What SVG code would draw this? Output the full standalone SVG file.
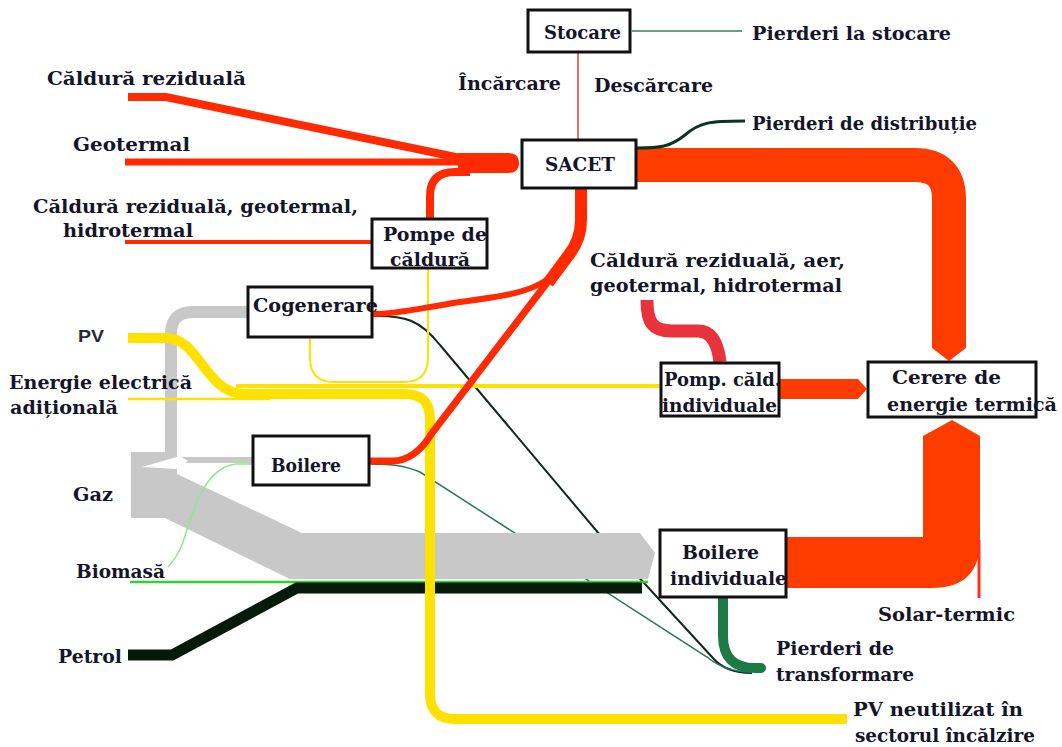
<svg xmlns="http://www.w3.org/2000/svg" width="1062" height="747" viewBox="0 0 1062 747">
<style>
.t{font-family:"DejaVu Serif","Liberation Serif",serif;font-weight:bold;font-size:19px;fill:#15152a}
.s{font-family:"Liberation Sans",Arial,sans-serif;font-weight:bold;font-size:17px;fill:#2a2a33}
.box{fill:#fff;stroke:#111;stroke-width:3}
.f{fill:none}
.red{stroke:#ff2a00}
.big{fill:#ff3c00}
.yel{stroke:#ffe100}
.grey{stroke:#c8c8c8}
</style>
<rect width="1062" height="747" fill="#fff"/>
<g id="connectors">
  <path class="f" d="M372,316 C405,315 420,320 440,345 L600,535 L712,657 Q725,673 752,673" stroke="#122a1e" stroke-width="2"/>
  <path class="f" d="M369,464 C395,464 405,466 420,472 L707,657 Q725,672 752,672" stroke="#2a7a5a" stroke-width="1.5"/>
  <path class="f grey" d="M171,456 V334 Q171,312 193,312 H248" stroke-width="12"/>
  <path class="f grey" d="M176,460 H253" stroke-width="6"/>
  <path d="M131,452 H177 V474 L302,533 H640 L655,553 L648,579 H290 L165,518 H131 Z" fill="#c8c8c8"/>
  <path d="M142,467 L180,456 L188,461 L176,469 Z" fill="#fff"/>
  <path class="f" d="M130,582 H648" stroke="#33d033" stroke-width="2.5"/>
  <path class="f" d="M168,567 C182,552 184,538 190,520 C198,495 212,466 236,464 H253" stroke="#8ee88e" stroke-width="1.5"/>
  <path class="f" d="M128,655 H172 L297,588 H642" stroke="#061a0c" stroke-width="11"/>
  <path class="f" d="M723,597 V636 Q723,668 755,668 H761" stroke="#1e7a45" stroke-width="10" stroke-linecap="round"/>
  <path class="f yel" d="M128,338 H166 C200,338 205,394 245,394 H405 Q430,394 430,419 V694 Q430,719 455,719 H847" stroke-width="10"/>
  <path class="f yel" d="M236,386 H661" stroke-width="4"/>
  <path class="f yel" d="M128,399 H270" stroke-width="2.5"/>
  <path class="f yel" d="M310,337 V358 Q310,382 334,382 H404 Q428,382 428,358 V268" stroke-width="2"/>
  <path class="f red" d="M128,97 H166 L470,160" stroke-width="8"/>
  <path class="f red" d="M125,162 H470" stroke-width="7"/>
  <path class="f red" d="M125,242 H372" stroke-width="4"/>
  <path class="f red" d="M430,219 V196 Q430,172 455,172 H470" stroke-width="8"/>
  <path d="M458,153 H508 Q519,153 519,163 Q519,173 508,173 H458 Z" fill="#ff2a00"/>
  <path class="f red" d="M581,188 V220 Q581,240 568,256 L548,283" stroke-width="12"/>
  <path class="f red" d="M556,271 L432,433 Q415,461 392,461 H369" stroke-width="7"/>
  <path class="f red" d="M551,276 C535,292 500,297 460,302 C420,308 400,314 372,314" stroke-width="6"/>
  <path class="f" d="M637,165 H915 Q949,165 949,199 V342" stroke="#ff3c00" stroke-width="34"/>
  <path class="big" d="M932,340 H966 V348 L949,361 L932,348 Z"/>
  <path class="f" d="M647,300 C647,322 652,331 672,331 H698 C712,331 718,345 720,362" stroke="#e8323c" stroke-width="13"/>
  <path class="big" d="M779,379 H858 L867,389 L858,399 H779 Z"/>
  <path class="big" d="M786,537 H923 V436 L952,420 L980,436 V540 Q980,588 932,588 H786 Z"/>
  <path class="f" d="M979,540 V598" stroke="#ff3020" stroke-width="3"/>
  <path class="f" d="M578,53 V140" stroke="#e04030" stroke-width="1.5"/>
  <path class="f" d="M632,31 H742" stroke="#3c7a5c" stroke-width="1.5"/>
  <path class="f" d="M637,148 C660,148 670,147 685,135 C700,122 710,121 745,121" stroke="#0a3320" stroke-width="3"/>
</g>
<g id="n-stocare"><rect class="box" x="528" y="10" width="102" height="42"/><text class="t" x="544" y="39" textLength="77" lengthAdjust="spacingAndGlyphs">Stocare</text></g>
<g id="n-sacet"><rect class="box" x="522" y="140" width="114" height="48"/><text class="t" x="545" y="171" textLength="70" lengthAdjust="spacingAndGlyphs">SACET</text></g>
<g id="n-pompe"><rect class="box" x="372" y="219" width="115" height="49"/><text class="t" x="383" y="241" textLength="104" lengthAdjust="spacingAndGlyphs">Pompe de</text><text class="t" x="390" y="266" textLength="80" lengthAdjust="spacingAndGlyphs">căldură</text></g>
<g id="n-cogen"><rect class="box" x="248" y="287" width="124" height="50"/><text class="t" x="253" y="312" textLength="125" lengthAdjust="spacingAndGlyphs">Cogenerare</text></g>
<g id="n-boilere"><rect class="box" x="253" y="436" width="116" height="49"/><text class="t" x="271" y="472" textLength="70" lengthAdjust="spacingAndGlyphs">Boilere</text></g>
<g id="n-pompind"><rect class="box" x="661" y="363" width="118" height="53"/><text class="t" x="664" y="386" textLength="117" lengthAdjust="spacingAndGlyphs">Pomp. căld.</text><text class="t" x="662" y="412" textLength="115" lengthAdjust="spacingAndGlyphs">individuale</text></g>
<g id="n-cerere"><rect class="box" x="868" y="362" width="168" height="55"/><text class="t" x="892" y="384" textLength="109" lengthAdjust="spacingAndGlyphs">Cerere de</text><text class="t" x="887" y="411" textLength="170" lengthAdjust="spacingAndGlyphs">energie termică</text></g>
<g id="n-boilind"><rect class="box" x="660" y="530" width="126" height="67"/><text class="t" x="682" y="559" textLength="77" lengthAdjust="spacingAndGlyphs">Boilere</text><text class="t" x="670" y="585" textLength="117" lengthAdjust="spacingAndGlyphs">individuale</text></g>
<g id="labels">
  <text class="t" x="47" y="85" textLength="199" lengthAdjust="spacingAndGlyphs">Căldură reziduală</text>
  <text class="t" x="73" y="151" textLength="117" lengthAdjust="spacingAndGlyphs">Geotermal</text>
  <text class="t" x="33" y="213" textLength="325" lengthAdjust="spacingAndGlyphs">Căldură reziduală, geotermal,</text>
  <text class="t" x="63" y="237" textLength="130" lengthAdjust="spacingAndGlyphs">hidrotermal</text>
  <text class="s" x="78" y="342" textLength="26" lengthAdjust="spacingAndGlyphs">PV</text>
  <text class="t" x="9" y="389" textLength="183" lengthAdjust="spacingAndGlyphs">Energie electrică</text>
  <text class="t" x="10" y="414" textLength="108" lengthAdjust="spacingAndGlyphs">adițională</text>
  <text class="t" x="73" y="501" textLength="40" lengthAdjust="spacingAndGlyphs">Gaz</text>
  <text class="t" x="76" y="578" textLength="89" lengthAdjust="spacingAndGlyphs">Biomasă</text>
  <text class="t" x="58" y="663" textLength="64" lengthAdjust="spacingAndGlyphs">Petrol</text>
  <text class="t" x="752" y="40" textLength="199" lengthAdjust="spacingAndGlyphs">Pierderi la stocare</text>
  <text class="t" x="458" y="90" textLength="103" lengthAdjust="spacingAndGlyphs">Încărcare</text>
  <text class="t" x="594" y="92" textLength="119" lengthAdjust="spacingAndGlyphs">Descărcare</text>
  <text class="t" x="752" y="130" textLength="225" lengthAdjust="spacingAndGlyphs">Pierderi de distribuție</text>
  <text class="t" x="590" y="267" textLength="255" lengthAdjust="spacingAndGlyphs">Căldură reziduală, aer,</text>
  <text class="t" x="590" y="292" textLength="252" lengthAdjust="spacingAndGlyphs">geotermal, hidrotermal</text>
  <text class="t" x="878" y="621" textLength="137" lengthAdjust="spacingAndGlyphs">Solar-termic</text>
  <text class="t" x="776" y="655" textLength="118" lengthAdjust="spacingAndGlyphs">Pierderi de</text>
  <text class="t" x="776" y="681" textLength="138" lengthAdjust="spacingAndGlyphs">transformare</text>
  <text class="t" x="853" y="716" textLength="170" lengthAdjust="spacingAndGlyphs">PV neutilizat în</text>
  <text class="t" x="855" y="742" textLength="180" lengthAdjust="spacingAndGlyphs">sectorul încălzire</text>
</g>
</svg>
